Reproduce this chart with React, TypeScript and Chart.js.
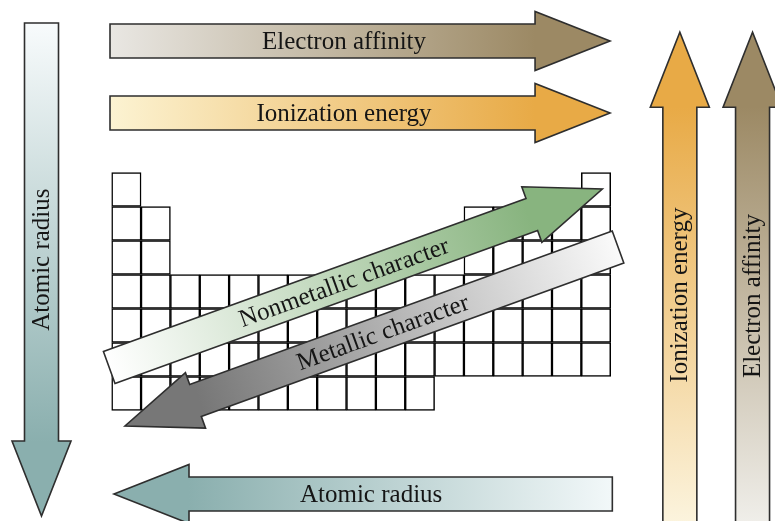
import React, { useEffect, useRef } from "react";
import { Chart, registerables } from "chart.js";

Chart.register(...registerables);

// ---- Periodic-table outline (group columns x period rows) ----
const groups = [1, 2, 3, 4, 5, 6, 7, 8, 9, 10, 11, 12, 13, 14, 15, 16, 17];
const firstPeriod = [1, 2, 4, 4, 4, 4, 4, 4, 4, 4, 4, 4, 2, 2, 2, 2, 1];
const lastPeriod = [7, 7, 7, 7, 7, 7, 7, 7, 7, 7, 7, 6, 6, 6, 6, 6, 6];
const periods = [1, 2, 3, 4, 5, 6, 7];

// ---- Trend arrows, in group / period units ----
const arrowLabels = [
  "Electron affinity",
  "Ionization energy",
  "Atomic radius",
  "Atomic radius",
  "Ionization energy",
  "Electron affinity",
  "Nonmetallic character",
  "Metallic character",
];
const arrowTailX = [0.442, 0.442, -1.892, 17.556, 19.856, 22.333, 0.415, 17.75];
const arrowTailY = [-3.368, -1.25, -3.897, 9.956, 11.015, 11.015, 6.235, 2.691];
const arrowTipX = [17.478, 17.478, -1.892, 0.578, 19.856, 22.333, 17.215, 0.953];
const arrowTipY = [-3.368, -1.25, 10.603, 9.956, -3.624, -3.624, 0.985, 7.956];
const arrowLabelAt = [0.468, 0.468, 0.48, 0.484, 0.472, 0.47, 0.476, 0.477];

// styles
const arrowTailColors = ["#e9e7e3", "#fcf3d2", "#f8fbfc", "#f2f8f9", "#fcf5e0", "#f1f0ec", "#ffffff", "#fafafa"];
const arrowTipColors = ["#9c8964", "#e8aa46", "#8aafae", "#8aafae", "#e8aa46", "#9c8964", "#88b47f", "#777777"];

const X_MIN = -3.306;
const X_MAX = 23.098;
const Y_MIN = -4.574;
const Y_MAX = 10.75;

const arrowPlugin = {
  id: "trendArrows",
  afterDatasetsDraw(chart: any) {
    const { ctx } = chart;
    const xs = chart.scales.x;
    const ys = chart.scales.y;
    const shaft = 34;
    const headW = 59;
    const headL = 75;
    for (let i = 0; i < arrowLabels.length; i++) {
      const x0 = xs.getPixelForValue(arrowTailX[i]);
      const y0 = ys.getPixelForValue(arrowTailY[i]);
      const x1 = xs.getPixelForValue(arrowTipX[i]);
      const y1 = ys.getPixelForValue(arrowTipY[i]);
      const dx = x1 - x0;
      const dy = y1 - y0;
      const len = Math.hypot(dx, dy);
      const ux = dx / len;
      const uy = dy / len;
      const nx = -uy;
      const ny = ux;
      const bx = x1 - ux * headL;
      const by = y1 - uy * headL;
      const pts = [
        [x0 + (nx * shaft) / 2, y0 + (ny * shaft) / 2],
        [bx + (nx * shaft) / 2, by + (ny * shaft) / 2],
        [bx + (nx * headW) / 2, by + (ny * headW) / 2],
        [x1, y1],
        [bx - (nx * headW) / 2, by - (ny * headW) / 2],
        [bx - (nx * shaft) / 2, by - (ny * shaft) / 2],
        [x0 - (nx * shaft) / 2, y0 - (ny * shaft) / 2],
      ];
      ctx.save();
      const g = ctx.createLinearGradient(x0, y0, x1, y1);
      g.addColorStop(0, arrowTailColors[i]);
      g.addColorStop(0.85, arrowTipColors[i]);
      g.addColorStop(1, arrowTipColors[i]);
      ctx.beginPath();
      ctx.moveTo(pts[0][0], pts[0][1]);
      for (let k = 1; k < pts.length; k++) ctx.lineTo(pts[k][0], pts[k][1]);
      ctx.closePath();
      ctx.fillStyle = g;
      ctx.fill();
      ctx.lineWidth = 1.6;
      ctx.lineJoin = "miter";
      ctx.strokeStyle = "#2e2e2e";
      ctx.stroke();

      // label
      let a = Math.atan2(dy, dx);
      while (a >= Math.PI / 2 - 1e-6) a -= Math.PI;
      while (a < -Math.PI / 2 - 1e-6) a += Math.PI;
      const lx = x0 + ux * len * arrowLabelAt[i];
      const ly = y0 + uy * len * arrowLabelAt[i];
      ctx.translate(lx, ly);
      ctx.rotate(a);
      ctx.font = '25px "Liberation Serif", "DejaVu Serif", serif';
      ctx.fillStyle = "#151515";
      ctx.textAlign = "center";
      ctx.textBaseline = "middle";
      ctx.fillText(arrowLabels[i], 0, 1);
      ctx.restore();
    }
  },
};

export default function App() {
  const ref = useRef<HTMLCanvasElement | null>(null);

  useEffect(() => {
    if (!ref.current) return;
    const datasets = periods.map((p) => ({
      label: `Period ${p}`,
      data: groups
        .filter((_, i) => firstPeriod[i] <= p && p <= lastPeriod[i])
        .map((g) => ({ x: g, y: [p - 0.5, p + 0.5] })),
      backgroundColor: "#ffffff",
      borderColor: "#000000",
      borderWidth: 1.5,
      borderSkipped: false as any,
      grouped: false,
      barPercentage: 1,
      categoryPercentage: 1,
    }));
    const chart = new Chart(ref.current, {
      type: "bar",
      data: { datasets: datasets as any },
      options: {
        animation: false,
        responsive: false,
        events: [],
        layout: { padding: 0 },
        plugins: { legend: { display: false }, tooltip: { enabled: false } },
        scales: {
          x: {
            type: "linear",
            min: X_MIN,
            max: X_MAX,
            offset: false,
            display: false,
            grid: { offset: false },
          },
          y: {
            type: "linear",
            min: Y_MIN,
            max: Y_MAX,
            reverse: true,
            display: false,
          },
        },
      },
      plugins: [arrowPlugin],
    });
    return () => chart.destroy();
  }, []);

  return (
    <div style={{ position: "fixed", left: 0, top: 0, width: 775, height: 521, background: "#ffffff" }}>
      <canvas ref={ref} width={775} height={521} style={{ display: "block", width: 775, height: 521 }} />
    </div>
  );
}
